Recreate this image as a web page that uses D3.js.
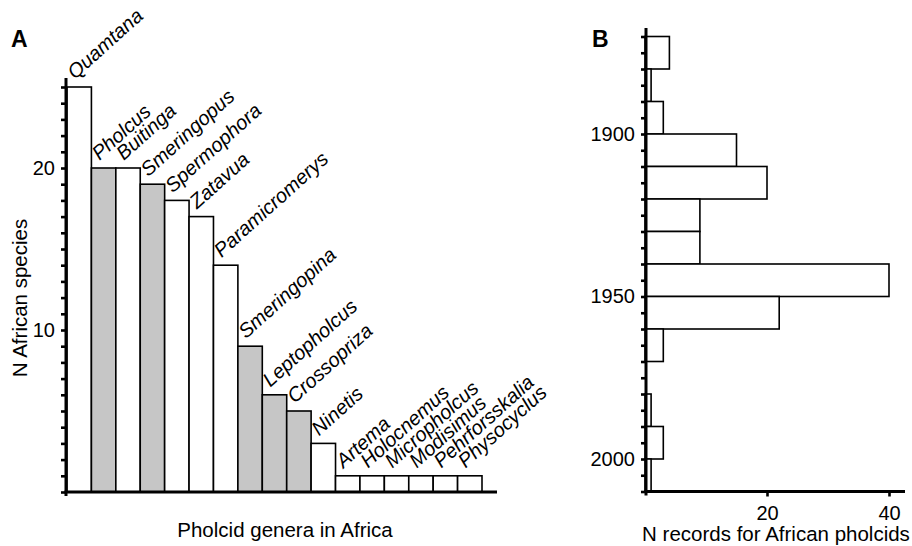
<!DOCTYPE html>
<html>
<head>
<meta charset="utf-8">
<script src="https://cdn.jsdelivr.net/npm/d3@7"></script>
<style>
  body { margin: 0; background: #fff; }
  text { font-family: "Liberation Sans", Arial, sans-serif; fill: #000; }
</style>
</head>
<body>
<svg id="chart" width="912" height="546"></svg>
<script>
// panel A: species per genus
var genera = ["Quamtana", "Pholcus", "Buitinga", "Smeringopus", "Spermophora", "Zatavua",
  "Paramicromerys", "Smeringopina", "Leptopholcus", "Crossopriza", "Ninetis", "Artema",
  "Holocnemus", "Micropholcus", "Modisimus", "Pehrforsskalia", "Physocyclus"];
var species = [25, 20, 20, 19, 18, 17, 14, 9, 6, 5, 3, 1, 1, 1, 1, 1, 1];
var shaded = ["Pholcus", "Smeringopus", "Smeringopina", "Leptopholcus", "Crossopriza"];
var speciesTicks = [10, 20];

// panel B: records per decade
var decades = [1870, 1880, 1890, 1900, 1910, 1920, 1930, 1940, 1950, 1960, 1970, 1980, 1990, 2000];
var records = [4, 1, 3, 15, 20, 9, 9, 40, 22, 3, 0, 1, 3, 1];
var yearTicks = [1900, 1950, 2000];
var recordTicks = [20, 40];

var svg = d3.select("#chart");

// ---------- A ----------
var xA = d3.scaleBand().domain(genera).range([67, 482]).padding(0);
var yA = d3.scaleLinear().domain([0, 25]).range([492, 87]);

var gA = svg.append("g");

gA.selectAll("rect.bar")
  .data(genera)
  .enter().append("rect")
  .attr("class", "bar")
  .attr("x", function (d) { return xA(d); })
  .attr("y", function (d, i) { return yA(species[i]); })
  .attr("width", xA.bandwidth())
  .attr("height", function (d, i) { return yA(0) - yA(species[i]); })
  .attr("fill", function (d) { return shaded.indexOf(d) >= 0 ? "#c6c6c6" : "#fff"; })
  .attr("stroke", "#000")
  .attr("stroke-width", 1.6);

gA.selectAll("text.genus")
  .data(genera)
  .enter().append("text")
  .attr("class", "genus")
  .attr("transform", function (d, i) {
    return "translate(" + (xA(d) + 8) + "," + (yA(species[i]) - 7) + ") rotate(-42)";
  })
  .style("font-style", "italic")
  .style("font-size", "20px")
  .text(function (d) { return d; });

var yAxisA = d3.axisLeft(yA)
  .tickValues(d3.range(0, 26))
  .tickSize(5)
  .tickPadding(6)
  .tickFormat(function (d) { return speciesTicks.indexOf(d) >= 0 ? d : ""; });

var axA = gA.append("g")
  .attr("transform", "translate(66,0)")
  .call(yAxisA);
axA.select(".domain").remove();
axA.selectAll("line").attr("stroke-width", 2.6);
axA.selectAll("text").style("font-size", "20px").style("font-family", "Liberation Sans, Arial, sans-serif");

gA.append("line")
  .attr("x1", 66).attr("x2", 66)
  .attr("y1", yA(25.55)).attr("y2", yA(0) + 4)
  .attr("stroke", "#000").attr("stroke-width", 3);
gA.append("line")
  .attr("x1", 64.5).attr("x2", 497)
  .attr("y1", yA(0)).attr("y2", yA(0))
  .attr("stroke", "#000").attr("stroke-width", 3);

gA.append("text")
  .attr("transform", "translate(27," + 298 + ") rotate(-90)")
  .attr("text-anchor", "middle")
  .style("font-size", "20.5px")
  .text("N African species");

gA.append("text")
  .attr("x", 285).attr("y", 537)
  .attr("text-anchor", "middle")
  .style("font-size", "20.5px")
  .text("Pholcid genera in Africa");

svg.append("text")
  .attr("x", 11).attr("y", 47)
  .style("font-size", "23px").style("font-weight", "bold")
  .text("A");

// ---------- B ----------
var yB = d3.scaleLinear().domain([1870, 2010]).range([36.5, 491.5]);
var xB = d3.scaleLinear().domain([0, 40]).range([645, 889]);

var gB = svg.append("g");

gB.selectAll("rect.rec")
  .data(decades)
  .enter().append("rect")
  .attr("class", "rec")
  .attr("x", xB(0))
  .attr("y", function (d) { return yB(d); })
  .attr("width", function (d, i) { return xB(records[i]) - xB(0); })
  .attr("height", function (d) { return yB(d + 10) - yB(d); })
  .attr("fill", "#fff")
  .attr("stroke", "#000")
  .attr("stroke-width", 1.6)
  .style("display", function (d, i) { return records[i] > 0 ? null : "none"; });

var yAxisB = d3.axisLeft(yB)
  .tickValues(d3.range(1870, 2011, 5))
  .tickSize(5)
  .tickPadding(6)
  .tickFormat(function (d) { return yearTicks.indexOf(d) >= 0 ? d : ""; });

var axB = gB.append("g")
  .attr("transform", "translate(646,0)")
  .call(yAxisB);
axB.select(".domain").remove();
axB.selectAll("line").attr("stroke-width", 2.6);
axB.selectAll("text").style("font-size", "20px").style("font-family", "Liberation Sans, Arial, sans-serif");

var xAxisB = d3.axisBottom(xB)
  .tickValues(recordTicks)
  .tickSize(5)
  .tickPadding(9);

var axBx = gB.append("g")
  .attr("transform", "translate(0," + yB(2010) + ")")
  .call(xAxisB);
axBx.select(".domain").remove();
axBx.selectAll("line").attr("stroke-width", 2.6);
axBx.selectAll("text").style("font-size", "20px").style("font-family", "Liberation Sans, Arial, sans-serif");

gB.append("line")
  .attr("x1", 646).attr("x2", 646)
  .attr("y1", 28).attr("y2", yB(2010) + 4)
  .attr("stroke", "#000").attr("stroke-width", 3);
gB.append("line")
  .attr("x1", 644.5).attr("x2", 905)
  .attr("y1", yB(2010)).attr("y2", yB(2010))
  .attr("stroke", "#000").attr("stroke-width", 3);

gB.append("text")
  .attr("x", 776).attr("y", 541)
  .attr("text-anchor", "middle")
  .style("font-size", "20.5px")
  .text("N records for African pholcids");

svg.append("text")
  .attr("x", 592).attr("y", 47)
  .style("font-size", "23px").style("font-weight", "bold")
  .text("B");
</script>
</body>
</html>
